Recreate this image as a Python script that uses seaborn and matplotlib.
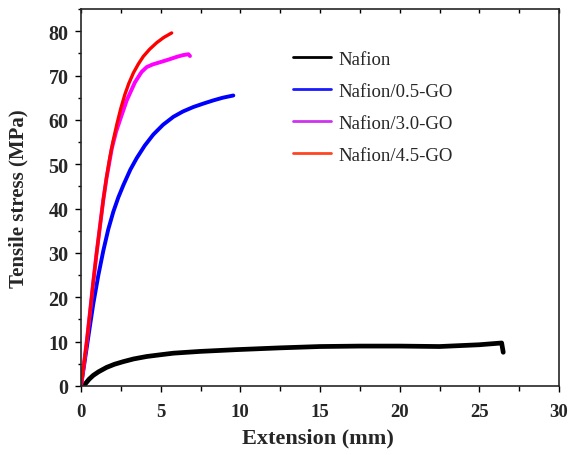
import matplotlib
matplotlib.use("Agg")
import matplotlib.pyplot as plt
from matplotlib.lines import Line2D
from matplotlib.ticker import MultipleLocator
import seaborn as sns
import pandas as pd

# ---- data ----
nafion_x = [0.25, 0.5, 0.77, 1.1, 1.61, 2.1, 2.66, 3.3, 4.12, 5.0, 5.8, 7.47, 9.77, 12.5, 15, 17.5, 20, 22.5, 25, 26.4, 26.5]
nafion_y = [0.4, 1.5, 2.4, 3.2, 4.2, 4.9, 5.5, 6.1, 6.65, 7.05, 7.4, 7.8, 8.2, 8.6, 8.9, 9.0, 9.0, 8.9, 9.3, 9.7, 7.6]

go05_x = [0, 0.25, 0.56, 0.77, 1.09, 1.40, 1.71, 2.03, 2.34, 2.66, 3.1, 3.5, 4.0, 4.54, 5.15, 5.80, 6.4, 7.05, 7.7, 8.31, 8.9, 9.56]
go05_y = [0, 6.0, 13.5, 18.5, 25.0, 30.5, 35.3, 39.3, 42.5, 45.3, 48.8, 51.4, 54.2, 56.7, 58.9, 60.7, 61.9, 62.9, 63.7, 64.4, 65.0, 65.5]

go30_x = [0, 0.15, 0.36, 0.56, 0.77, 0.98, 1.19, 1.40, 1.6, 1.93, 2.2, 2.45, 2.87, 3.39, 3.8, 4.12, 4.5, 4.96, 5.5, 6.0, 6.4, 6.74, 6.84]
go30_y = [0, 4.0, 10.0, 16.5, 23.5, 30.0, 36.0, 42.0, 46.8, 53.5, 57.3, 60.0, 64.4, 68.5, 70.8, 71.9, 72.5, 73.0, 73.6, 74.2, 74.6, 74.8, 74.4]

go45_x = [0, 0.15, 0.36, 0.56, 0.77, 0.98, 1.19, 1.40, 1.6, 1.8, 2.0, 2.25, 2.5, 2.76, 3.0, 3.29, 3.6, 3.91, 4.3, 4.75, 5.2, 5.69]
go45_y = [0, 4.0, 10.0, 16.5, 23.5, 30.0, 36.0, 42.0, 47.0, 51.3, 55.0, 59.0, 62.6, 65.8, 68.2, 70.6, 72.6, 74.3, 75.9, 77.4, 78.6, 79.6]

labels = ["Nafion", "Nafion/0.5-GO", "Nafion/3.0-GO", "Nafion/4.5-GO"]
x_ticks = [0, 5, 10, 15, 20, 25, 30]
y_ticks = [0, 10, 20, 30, 40, 50, 60, 70, 80]

series = [(nafion_x, nafion_y), (go05_x, go05_y), (go30_x, go30_y), (go45_x, go45_y)]
line_colors = ["#000000", "#0000ff", "#ff00ff", "#ff0000"]
legend_colors = ["#000000", "#1a1aff", "#cc33ee", "#ff4422"]
widths = [3.4, 2.8, 2.8, 2.4]

sns.set_style("ticks")
plt.rcParams["font.family"] = ["Liberation Serif", "DejaVu Serif"]

fig = plt.figure(figsize=(5.71, 4.56), dpi=100)
ax = fig.add_axes([81 / 571, 1 - 387 / 456, 478 / 571, 377 / 456])

for (xs, ys), lab, c, w in zip(series, labels, line_colors, widths):
    df = pd.DataFrame({"x": xs, "y": ys})
    sns.lineplot(data=df, x="x", y="y", sort=False, estimator=None, color=c,
                 linewidth=w, ax=ax, legend=False,
                 solid_joinstyle="round", solid_capstyle="round")

ax.set_xlim(0, 30)
ax.set_ylim(0, 85)
ax.set_xticks(x_ticks)
ax.set_yticks(y_ticks)
ax.xaxis.set_minor_locator(MultipleLocator(2.5))
ax.yaxis.set_minor_locator(MultipleLocator(5))

for s in ax.spines.values():
    s.set_linewidth(1.2)
    s.set_visible(True)

ax.tick_params(axis="both", which="both", direction="out", width=1.0, color="black")
ax.tick_params(axis="x", which="major", length=4.5, pad=8)
ax.tick_params(axis="x", which="minor", length=3.5)
ax.tick_params(axis="y", which="major", length=4, pad=5)
ax.tick_params(axis="y", which="minor", length=2.5)
ax.tick_params(axis="x", which="both", top=True)

for t in ax.get_xticklabels():
    t.set_fontsize(13.5)
    t.set_fontweight("bold")
for t in ax.get_yticklabels():
    t.set_fontsize(14.5)
    t.set_fontweight("bold")

# top ticks point inward
for tk in ax.xaxis.get_major_ticks() + ax.xaxis.get_minor_ticks():
    tk.tick2line.set_marker(3)
    tk.tick2line.set_markersize(3)

ax.set_xlabel("Extension (mm)", fontsize=16, fontweight="bold")
ax.set_ylabel("Tensile stress (MPa)", fontsize=15, fontweight="bold")
ax.xaxis.set_label_coords(0.496, -0.11)
ax.yaxis.set_label_coords(-0.11, 0.5)

handles = [Line2D([], [], color=c, linewidth=2) for c in legend_colors]
leg = ax.legend(handles, labels, loc="upper left", bbox_to_anchor=(0.444, 0.89),
                frameon=False, fontsize=13.5, handlelength=2.0, handletextpad=0.4,
                labelspacing=0.8, borderpad=0, borderaxespad=0)

fig.savefig("out.png", dpi=100)
